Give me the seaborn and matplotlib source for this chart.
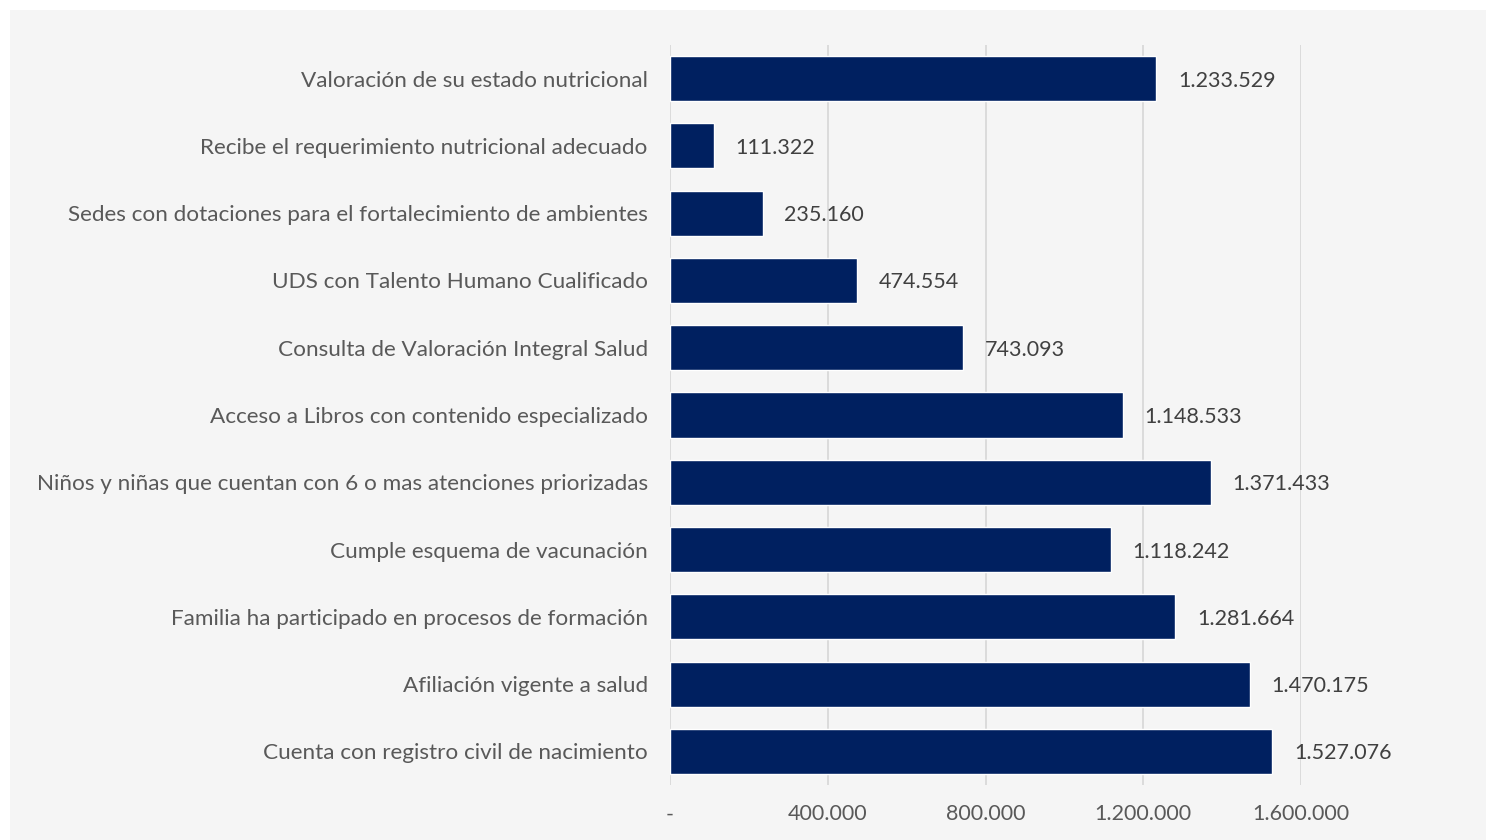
import matplotlib.pyplot as plt
import matplotlib.ticker as mticker
from matplotlib.patches import Rectangle
import seaborn as sns
import pandas as pd

categorias = [
    "Valoración de su estado nutricional",
    "Recibe el requerimiento nutricional adecuado",
    "Sedes con dotaciones para el fortalecimiento de ambientes",
    "UDS con Talento Humano Cualificado",
    "Consulta de Valoración Integral Salud",
    "Acceso a Libros con contenido especializado",
    "Niños y niñas que cuentan con 6 o mas atenciones priorizadas",
    "Cumple esquema de vacunación",
    "Familia ha participado en procesos de formación",
    "Afiliación vigente a salud",
    "Cuenta con registro civil de nacimiento",
]
valores = [1233529, 111322, 235160, 474554, 743093, 1148533,
           1371433, 1118242, 1281664, 1470175, 1527076]
ticks = [0, 400000, 800000, 1200000, 1600000]


def miles(v):
    # formato con punto de miles, como en el original
    return f"{v:,.0f}".replace(",", ".")


df = pd.DataFrame({"categoria": categorias, "valor": valores})

sns.set_style("white")
plt.rcParams['font.family'] = ['Lato', 'DejaVu Sans']

fig = plt.figure(figsize=(14.86, 8.4), dpi=100)
fig.patch.set_facecolor("white")
fig.patches.append(Rectangle((10 / 1486, 0), 1, 830 / 840, transform=fig.transFigure,
                             facecolor="#f5f5f5", edgecolor="none", zorder=-10))

ax = fig.add_axes([670 / 1486, 55 / 840, 631 / 1486, 740 / 840])
ax.set_facecolor("#f5f5f5")

sns.barplot(data=df, x="valor", y="categoria", color="#002060", width=0.67,
            saturation=1, ax=ax, zorder=3)

for i, v in enumerate(valores):
    ax.text(v + 55000, i + 0.03, miles(v), va="center", ha="left",
            fontsize=15.5, color="#404040", clip_on=False)

ax.set_xlim(0, 1600000)
ax.set_ylim(len(categorias) - 0.5, -0.5)
ax.set_xticks(ticks)
ax.xaxis.set_major_formatter(mticker.FuncFormatter(lambda v, p: "-" if v == 0 else miles(v)))
ax.grid(axis="x", color="#d9d9d9", linewidth=1.3, zorder=0)
ax.set_xlabel("")
ax.set_ylabel("")
for s in ["top", "right", "bottom", "left"]:
    ax.spines[s].set_visible(False)
ax.tick_params(axis="x", length=0, pad=14, labelsize=15.5, labelcolor="#595959")
ax.tick_params(axis="y", length=0, pad=16, labelsize=16.2, labelcolor="#595959")

fig.savefig("out.png", dpi=100, facecolor=fig.get_facecolor())
